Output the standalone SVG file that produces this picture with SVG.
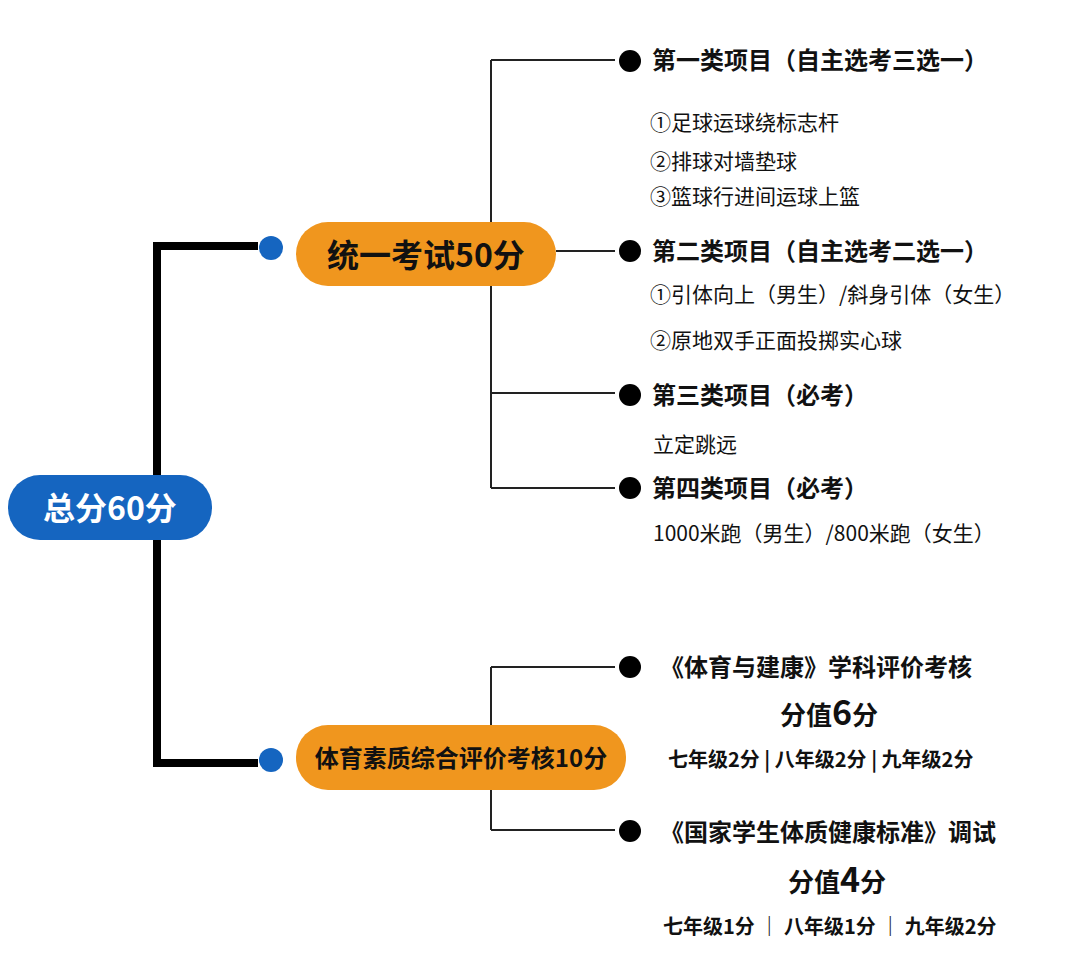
<svg xmlns="http://www.w3.org/2000/svg" width="1080" height="974" viewBox="0 0 1080 974">
<style>
text{font-family:"Noto Sans CJK SC","Noto Sans",sans-serif;fill:#111}
.h{font-size:24px;font-weight:bold}
.s{font-size:21px}
.g{font-size:20px;font-weight:bold}
.thin{stroke:#222;stroke-width:2;fill:none}
.thick{stroke:#000;stroke-width:8;fill:none}
.dot{fill:#000}
.bdot{fill:#1565c0}
</style>
<rect width="1080" height="974" fill="#fff"/>
<g id="connectors">
<path class="thick" d="M258 246 H157 V763 H258"/>
<path class="thin" d="M491 60 V488 M491 60 H615 M556 251 H615 M491 393 H615 M491 488 H615"/>
<path class="thin" d="M491 667 V830 M491 667 H615 M491 830 H615"/>
<circle class="bdot" cx="271" cy="248" r="12"/>
<circle class="bdot" cx="271" cy="760" r="12"/>
</g>
<g id="root"><rect x="8" y="475" width="204" height="65" rx="32" fill="#1565c0"/><text x="110" y="520" text-anchor="middle" style="font-size:32px;font-weight:bold;fill:#fff">总分60分</text></g>
<g id="exam"><rect x="296" y="222" width="260" height="64" rx="32" fill="#f0961e"/><text x="426" y="267" text-anchor="middle" style="font-size:32px;font-weight:bold">统一考试50分</text></g>
<g id="eval"><rect x="296" y="725" width="330" height="65" rx="32" fill="#f0961e"/><text x="461" y="767" text-anchor="middle" style="font-size:24px;font-weight:bold">体育素质综合评价考核10分</text></g>
<g id="c1"><circle class="dot" cx="630" cy="61" r="11"/><text class="h" x="652" y="69">第一类项目（自主选考三选一）</text>
<text class="s" x="650" y="130">①足球运球绕标志杆</text><text class="s" x="650" y="169">②排球对墙垫球</text><text class="s" x="650" y="204">③篮球行进间运球上篮</text></g>
<g id="c2"><circle class="dot" cx="630" cy="251" r="11"/><text class="h" x="652" y="260">第二类项目（自主选考二选一）</text>
<text class="s" x="650" y="302">①引体向上（男生）/斜身引体（女生）</text><text class="s" x="650" y="348">②原地双手正面投掷实心球</text></g>
<g id="c3"><circle class="dot" cx="630" cy="395" r="11"/><text class="h" x="652" y="404">第三类项目（必考）</text><text class="s" x="653" y="452">立定跳远</text></g>
<g id="c4"><circle class="dot" cx="630" cy="488" r="11"/><text class="h" x="652" y="497">第四类项目（必考）</text><text class="s" x="653" y="541">1000米跑（男生）/800米跑（女生）</text></g>
<g id="e1"><circle class="dot" cx="630" cy="667" r="11"/><text class="h" x="660" y="676">《体育与建康》学科评价考核</text>
<text x="829" y="725" text-anchor="middle" style="font-size:26px;font-weight:bold">分值<tspan style="font-size:34px">6</tspan>分</text>
<text class="g" x="668" y="767">七年级2分 | 八年级2分 | 九年级2分</text></g>
<g id="e2"><circle class="dot" cx="630" cy="831" r="11"/><text class="h" x="660" y="841">《国家学生体质健康标准》调试</text>
<text x="837" y="892" text-anchor="middle" style="font-size:26px;font-weight:bold">分值<tspan style="font-size:34px">4</tspan>分</text>
<text class="g" x="663" y="934">七年级1分 ｜ 八年级1分 ｜ 九年级2分</text></g>
</svg>
